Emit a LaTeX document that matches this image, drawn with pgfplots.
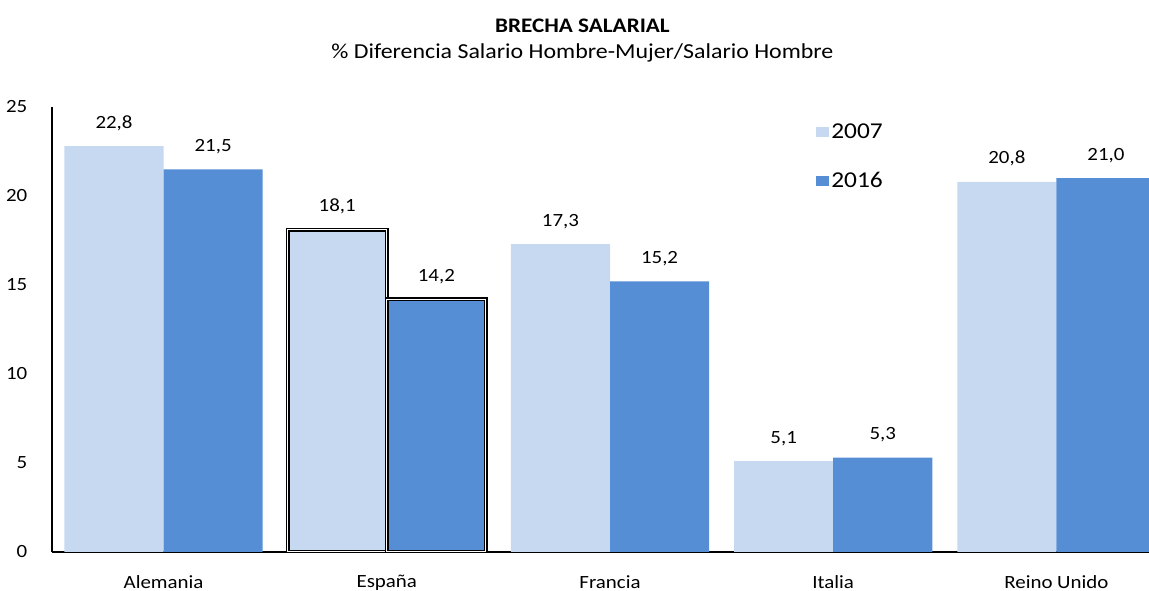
\documentclass[border=0pt]{standalone}
\usepackage{fontspec}
\setmainfont{Carlito}[FakeStretch=1.12]
\usepackage{pgfplots}
\pgfplotsset{compat=1.18}
\definecolor{light2007}{HTML}{C6D9F0}
\definecolor{dark2016}{HTML}{558ED5}

% Brecha salarial 2007 vs 2016
\pgfplotstableread{
x v2007 v2016
0 22.8 21.5
2 17.3 15.2
3 5.1 5.3
4 20.8 21.0
}\others
\pgfplotstableread{
x v2007 v2016
1 18.1 14.2
}\spain

\begin{document}
\begin{tikzpicture}
\begin{axis}[
  name=ax,
  scale only axis,
  width=837pt,
  height=333.75pt,
  ybar,
  bar width=0.444,
  xmin=-0.5, xmax=4.5,
  ymin=0, ymax=25,
  ytick={0,5,...,25},
  xtick={0,1,2,3,4},
  xticklabels={Alemania, España, Francia, Italia, Reino Unido},
  axis x line=bottom,
  axis y line=left,
  axis line style={-, black, line width=0.9pt},
  major tick length=0pt,
  tick label style={font=\fontsize{14}{17}\selectfont},
  /pgf/number format/assume math mode=true,
  yticklabel style={xshift=-15pt},
  xticklabel style={yshift=-14pt},
  nodes near coords,
  nodes near coords style={font=\fontsize{14}{17}\selectfont, yshift=8pt,
    /pgf/number format/.cd, fixed, fixed zerofill, precision=1, use comma},
  extra description/.code={
    \node[font=\fontsize{15.5}{18}\selectfont\bfseries, anchor=base] at (0.4753,1) [yshift=56pt] {BRECHA SALARIAL};
    \node[font=\fontsize{16}{19}\selectfont, anchor=base] at (0.4753,1) [yshift=36pt] {\% Diferencia Salario Hombre-Mujer/Salario Hombre};
  },
  legend style={at={(0.6846,0.967)}, anchor=north west, draw=none, fill=none,
    font=\fontsize{17}{20}\selectfont, row sep=21pt, inner sep=0pt,
    nodes={inner sep=1.5pt}},
  legend cell align=left,
  legend image code/.code={\fill[#1] (0pt,-3.2pt) rectangle (9.75pt,4.3pt);},
]
\addplot[fill=light2007, draw=none, bar shift=-0.222] table[x=x, y=v2007] {\others};
\addplot[fill=dark2016, draw=none, bar shift=0.222] table[x=x, y=v2016] {\others};
\addplot[fill=light2007, draw=black, line width=1.1pt, double=white, double distance=0.8pt, bar shift=-0.222, forget plot] table[x=x, y=v2007] {\spain};
\addplot[fill=dark2016, draw=black, line width=1.1pt, double=white, double distance=0.8pt, bar shift=0.222, forget plot] table[x=x, y=v2016] {\spain};
\legend{2007, 2016}
\end{axis}
\pgfresetboundingbox
\path (ax.south west) ++(-39pt,-29.25pt) coordinate (bbA);
\path (ax.north west) ++(822.75pt,80.25pt) coordinate (bbB);
\useasboundingbox (bbA) rectangle (bbB);
\end{tikzpicture}
\end{document}
